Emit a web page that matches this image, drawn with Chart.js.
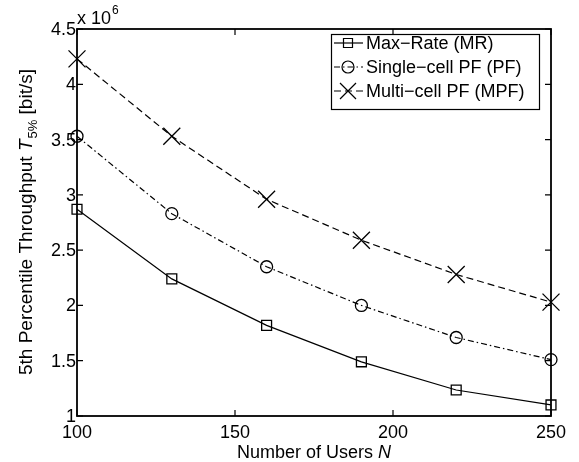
<!DOCTYPE html>
<html>
<head>
<meta charset="utf-8">
<script src="https://cdn.jsdelivr.net/npm/chart.js@4"></script>
<style>
  html, body { margin: 0; padding: 0; background: #fff; }
  #wrap { width: 579px; height: 462px; }
</style>
</head>
<body>
<div id="wrap"><canvas id="c" width="579" height="462"></canvas></div>
<script>
"use strict";

// Data (throughput in units of 10^6 bit/s)

var users = [100, 130, 160, 190, 220, 250];
var maxRate = [2.87, 2.24, 1.82, 1.49, 1.235, 1.10];
var singleCellPF = [3.53, 2.83, 2.35, 2.00, 1.71, 1.51];
var multiCellPF = [4.23, 3.53, 2.96, 2.59, 2.28, 2.03];

var seriesNames = ["Max\u2212Rate (MR)", "Single\u2212cell PF (PF)", "Multi\u2212cell PF (MPF)"];
var xTitle = "Number of Users ";
var yTitle = "5th Percentile Throughput ";

var FONT = "'Liberation Sans', Arial, Helvetica, sans-serif";

function points(values) {
	return users.map(function (u, i) { return { x: u, y: values[i] }; });
}

var styles = [
	{ dash: [], point: "rect", radius: 7 },
	{ dash: [6, 3, 1.5, 3], point: "circle", radius: 6 },
	{ dash: [7, 4], point: "crossRot", radius: 12 }
];

function dataset(label, values, style) {
	return {
		label: label,
		data: points(values),
		borderColor: "#000",
		borderWidth: 1.2,
		borderDash: style.dash,
		pointStyle: style.point,
		pointRadius: style.radius,
		pointBorderColor: "#000",
		pointBorderWidth: 1.3,
		pointBackgroundColor: "rgba(0,0,0,0)",
		tension: 0,
		clip: false
	};
}

// draws the matlab style box, ticks, labels and legend
var matlabFrame = {
	id: "matlabFrame",
	afterDraw: function (chart) {
		var ctx = chart.ctx, ca = chart.chartArea;
		var xs = chart.scales.x, ys = chart.scales.y;

		ctx.save();
		ctx.strokeStyle = "#000";
		ctx.fillStyle = "#000";
		ctx.lineWidth = 1.8;
		ctx.strokeRect(ca.left, ca.top, ca.right - ca.left, ca.bottom - ca.top);

		// inward ticks
		ctx.lineWidth = 1.2;
		ctx.beginPath();
		xs.ticks.forEach(function (t) {
			var px = xs.getPixelForValue(t.value);
			ctx.moveTo(px, ca.bottom); ctx.lineTo(px, ca.bottom - 6);
			ctx.moveTo(px, ca.top); ctx.lineTo(px, ca.top + 6);
		});
		ys.ticks.forEach(function (t) {
			var py = ys.getPixelForValue(t.value);
			ctx.moveTo(ca.left, py); ctx.lineTo(ca.left + 6, py);
			ctx.moveTo(ca.right, py); ctx.lineTo(ca.right - 6, py);
		});
		ctx.stroke();

		// tick labels
		ctx.font = "18px " + FONT;
		ctx.textAlign = "center";
		ctx.textBaseline = "alphabetic";
		xs.ticks.forEach(function (t) {
			ctx.fillText(String(t.value), xs.getPixelForValue(t.value), ca.bottom + 22);
		});
		ctx.textAlign = "right";
		ctx.textBaseline = "middle";
		ys.ticks.forEach(function (t) {
			ctx.fillText(String(t.value), ca.left - 1, ys.getPixelForValue(t.value) + 1);
		});

		// exponent
		ctx.textAlign = "left";
		ctx.textBaseline = "alphabetic";
		ctx.fillText("x 10", ca.left, ca.top - 5);
		var w10 = ctx.measureText("x 10").width;
		ctx.font = "12px " + FONT;
		ctx.fillText("6", ca.left + w10 + 1, ca.top - 15);

		// x title
		ctx.font = "18px " + FONT;
		var wx = ctx.measureText(xTitle).width;
		ctx.font = "italic 18px " + FONT;
		var wn = ctx.measureText("N").width;
		var x0 = (ca.left + ca.right) / 2 - (wx + wn) / 2;
		ctx.font = "18px " + FONT;
		ctx.fillText(xTitle, x0, 458);
		ctx.font = "italic 18px " + FONT;
		ctx.fillText("N", x0 + wx, 458);

		// y title, rotated
		ctx.save();
		ctx.translate(32, (ca.top + ca.bottom) / 2);
		ctx.rotate(-Math.PI / 2);
		ctx.font = "19px " + FONT;
		var w1 = ctx.measureText(yTitle).width;
		ctx.font = "italic 19px " + FONT;
		var wT = ctx.measureText("T").width;
		ctx.font = "13px " + FONT;
		var wS = ctx.measureText("5%").width;
		ctx.font = "19px " + FONT;
		var w3 = ctx.measureText(" [bit/s]").width;
		var start = -(w1 + wT + wS + w3) / 2;
		ctx.fillText(yTitle, start, 0);
		ctx.font = "italic 19px " + FONT;
		ctx.fillText("T", start + w1, 0);
		ctx.font = "13px " + FONT;
		ctx.fillText("5%", start + w1 + wT + 1, 5);
		ctx.font = "19px " + FONT;
		ctx.fillText(" [bit/s]", start + w1 + wT + wS + 1, 0);
		ctx.restore();

		// legend
		var lx = 331, ly = 34, lw = 208, lh = 75;
		ctx.fillStyle = "#fff";
		ctx.fillRect(lx, ly, lw, lh);
		ctx.fillStyle = "#000";
		ctx.lineWidth = 1.2;
		ctx.strokeRect(lx + 0.5, ly + 0.5, lw, lh);
		ctx.font = "18px " + FONT;
		ctx.textBaseline = "middle";
		seriesNames.forEach(function (name, i) {
			var cy = 43 + i * 24, st = styles[i];
			ctx.beginPath();
			ctx.setLineDash(st.dash);
			ctx.moveTo(334, cy); ctx.lineTo(363, cy);
			ctx.stroke();
			ctx.setLineDash([]);
			ctx.beginPath();
			if (st.point === "rect") {
				ctx.rect(343.5, cy - 4.5, 9, 9);
			} else if (st.point === "circle") {
				ctx.arc(348, cy, 6, 0, Math.PI * 2);
			} else {
				ctx.moveTo(340, cy - 8); ctx.lineTo(356, cy + 8);
				ctx.moveTo(340, cy + 8); ctx.lineTo(356, cy - 8);
			}
			ctx.stroke();
			ctx.fillText(name, 366, cy + 1);
		});
		ctx.restore();
	}
};

new Chart(document.getElementById("c"), {
	type: "line",
	data: {
		datasets: [
			dataset(seriesNames[0], maxRate, styles[0]),
			dataset(seriesNames[1], singleCellPF, styles[1]),
			dataset(seriesNames[2], multiCellPF, styles[2])
		]
	},
	options: {
		responsive: false,
		animation: false,
		layout: { padding: { top: 29, right: 28, left: 0, bottom: 0 } },
		plugins: { legend: { display: false }, tooltip: { enabled: false } },
		scales: {
			x: {
				type: "linear", min: 100, max: 250,
				ticks: { stepSize: 50, display: false },
				grid: { display: false },
				border: { display: false },
				afterFit: function (s) { s.height = 46; }
			},
			y: {
				min: 1, max: 4.5,
				ticks: { stepSize: 0.5, display: false },
				grid: { display: false },
				border: { display: false },
				afterFit: function (s) { s.width = 77; }
			}
		}
	},
	plugins: [matlabFrame]
});
</script>
</body>
</html>
